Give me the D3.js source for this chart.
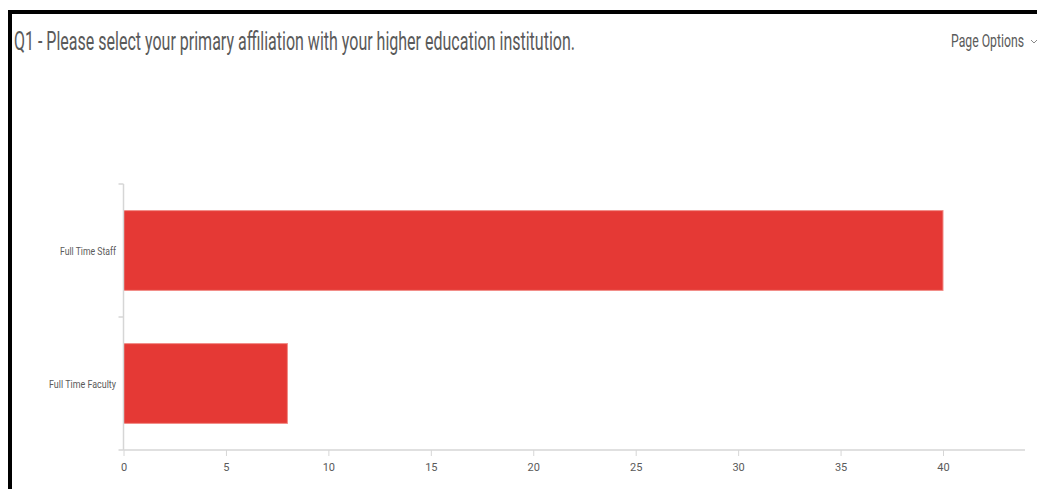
<!DOCTYPE html>
<html>
<head>
<meta charset="utf-8">
<script src="https://cdn.jsdelivr.net/npm/d3@7"></script>
<style>
  html, body { margin: 0; padding: 0; background: #fff; }
  svg { display: block; }
</style>
</head>
<body>
<svg id="chart" width="1037" height="489"></svg>
<script>
// Responses per affiliation
const categories = ["Full Time Staff", "Full Time Faculty"];
const counts = [40, 8];
const tickValues = [0, 5, 10, 15, 20, 25, 30, 35, 40];
const titleText = "Q1 - Please select your primary affiliation with your higher education institution.";
const optionsText = "Page Options";

const svg = d3.select("#chart");
const W = 1037, H = 489;
const grey = "#5a5a5a";
const axisGrey = "#d6d6d6";

// Page frame
svg.append("rect").attr("x", 0).attr("y", 0).attr("width", W).attr("height", H).attr("fill", "#fff");
svg.append("rect").attr("x", 8).attr("y", 10).attr("width", W - 8).attr("height", 4).attr("fill", "#000");
svg.append("rect").attr("x", 8).attr("y", 10).attr("width", 4).attr("height", H - 10).attr("fill", "#000");

// Header
svg.append("text")
  .attr("x", 14).attr("y", 50)
  .attr("font-family", "Roboto, 'Open Sans', sans-serif")
  .attr("font-size", 25)
  .attr("fill", grey)
  .attr("textLength", 561)
  .attr("lengthAdjust", "spacingAndGlyphs")
  .text(titleText);

svg.append("text")
  .attr("x", 951).attr("y", 47)
  .attr("font-family", "Roboto, 'Open Sans', sans-serif")
  .attr("font-size", 18)
  .attr("fill", grey)
  .attr("textLength", 73)
  .attr("lengthAdjust", "spacingAndGlyphs")
  .text(optionsText);

svg.append("path")
  .attr("d", "M1031,40 L1034,43 L1037,40")
  .attr("fill", "none").attr("stroke", "#888").attr("stroke-width", 1);

// Plot area
const plotLeft = 123.5, plotRight = 1025, plotTop = 184, plotBottom = 450;

const x = d3.scaleLinear().domain([0, 44]).range([plotLeft, plotLeft + 44 * (943 - plotLeft) / 40]);
const y = d3.scaleBand().domain(categories).range([plotTop, plotBottom]).paddingInner(0).paddingOuter(0);

const barFrac = 0.6;
const barH = y.bandwidth() * barFrac;

// Bars
svg.append("g").selectAll("rect")
  .data(categories.map((c, i) => ({ c, v: counts[i] })))
  .join("rect")
  .attr("x", x(0))
  .attr("y", d => y(d.c) + (y.bandwidth() - barH) / 2)
  .attr("width", d => x(d.v) - x(0))
  .attr("height", barH)
  .attr("fill", "#e53935")
  .attr("stroke", "#f28b86")
  .attr("stroke-width", 1);

// X axis
const xAxis = d3.axisBottom(x).tickValues(tickValues).tickSize(6).tickPadding(7).tickSizeOuter(0);
const gx = svg.append("g").attr("transform", `translate(0,${plotBottom})`).call(xAxis);
gx.select(".domain").remove();
gx.append("line").attr("x1", plotLeft).attr("x2", plotRight).attr("y1", 0).attr("y2", 0)
  .attr("stroke", axisGrey).attr("stroke-width", 1.5);
gx.selectAll(".tick line").attr("stroke", axisGrey);
gx.selectAll(".tick text")
  .attr("fill", grey)
  .attr("font-family", "Roboto, 'Open Sans', sans-serif")
  .attr("font-size", 11);

// Y axis: band separators drawn as ticks at band edges
const gy = svg.append("g");
gy.append("line").attr("x1", plotLeft).attr("x2", plotLeft).attr("y1", plotTop).attr("y2", plotBottom)
  .attr("stroke", axisGrey).attr("stroke-width", 1.5);
const edges = [plotTop, ...categories.map(c => y(c) + y.bandwidth())];
gy.selectAll("line.edge").data(edges).join("line").attr("class", "edge")
  .attr("x1", plotLeft - 5).attr("x2", plotLeft).attr("y1", d => d).attr("y2", d => d)
  .attr("stroke", axisGrey).attr("stroke-width", 1.5);

const labelWidths = { "Full Time Staff": 56, "Full Time Faculty": 67 };
gy.selectAll("text").data(categories).join("text")
  .attr("x", d => 116 - labelWidths[d])
  .attr("y", d => y(d) + y.bandwidth() / 2 + 4)
  .attr("fill", grey)
  .attr("font-family", "Roboto, 'Open Sans', sans-serif")
  .attr("font-size", 11.5)
  .attr("textLength", d => labelWidths[d])
  .attr("lengthAdjust", "spacingAndGlyphs")
  .text(d => d);
</script>
</body>
</html>
